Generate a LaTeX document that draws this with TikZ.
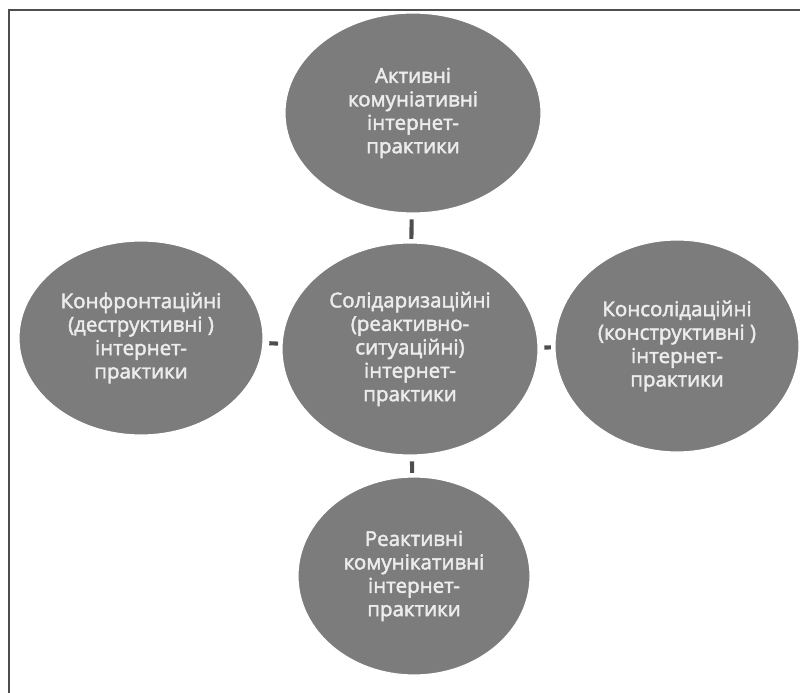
\documentclass[tikz,border=0pt]{standalone}
\usepackage{fontspec}
\setmainfont{Open Sans}
\newfontfamily\practicefont{Open Sans}[FakeBold=2.2]
\usepackage{xcolor}
\usepackage{tikz}
\usetikzlibrary{shapes.geometric}

\definecolor{practicefill}{RGB}{124,124,124}
\definecolor{practicetext}{RGB}{236,236,236}
\definecolor{linkgray}{RGB}{78,78,78}

\begin{document}
\begin{tikzpicture}[x=0.03cm,y=-0.03cm,
	practice/.style={ellipse,fill=practicefill,draw=white,line width=1pt,inner sep=0pt,
		text=practicetext,align=center,font=\practicefont\fontsize{17.5}{20}\selectfont},
	link/.style={draw=linkgray,line width=3.5pt,shorten <=5pt,shorten >=3pt}]
	\useasboundingbox (0,0) rectangle (800,693);
	\fill[white] (0,0) rectangle (800,693);
	\draw[linkgray,line width=1.6pt] (9,693) -- (9,10) -- (800,10);

	\node[practice,minimum width=7.68cm,minimum height=6cm] (aktyvni) at (413,113) {Активні\\комуніативні\\інтернет-\\практики};
	\node[practice,minimum width=7.68cm,minimum height=6.36cm] (solidar) at (410,349) {Солідаризаційні\\(реактивно-\\ситуаційні)\\інтернет-\\практики};
	\node[practice,minimum width=7.32cm,minimum height=5.82cm] (konfront) at (141,338) {Конфронтаційні\\(деструктивні )\\інтернет-\\практики};
	\node[practice,minimum width=7.32cm,minimum height=6.36cm] (konsolid) at (677,346) {Консолідаційні\\(конструктивні )\\інтернет-\\практики};
	\node[practice,minimum width=6.96cm,minimum height=5.94cm] (reaktyvni) at (414,576) {Реактивні\\комунікативні\\інтернет-\\практики};

	\draw[link] (aktyvni) -- (solidar);
	\draw[link] (konfront) -- (solidar);
	\draw[link] (solidar) -- (konsolid);
	\draw[link] (solidar) -- (reaktyvni);
\end{tikzpicture}
\end{document}
